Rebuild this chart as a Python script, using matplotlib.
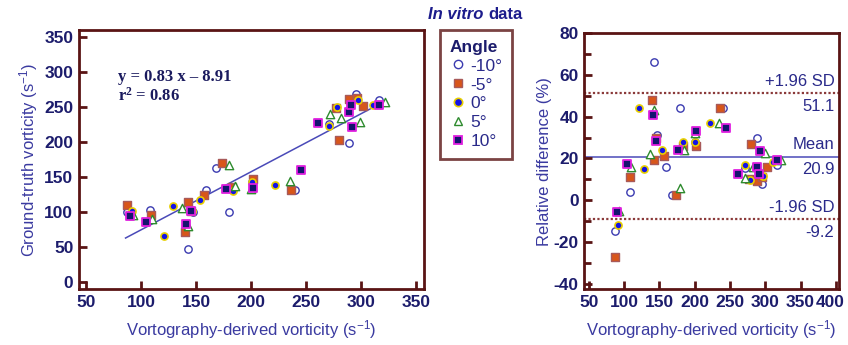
import matplotlib
matplotlib.use("Agg")
import matplotlib.pyplot as plt
import matplotlib.transforms as mtransforms
import numpy as np
from matplotlib.lines import Line2D

plt.rcParams['font.family'] = ['Liberation Sans', 'DejaVu Sans']
plt.rcParams['mathtext.default'] = 'regular'
plt.rcParams['axes.unicode_minus'] = False

x_m10 = [87, 108, 143, 147, 159, 168, 180, 201, 240, 271, 289, 295, 316]
gt_m10 = [99, 102, 47, 100, 131, 162, 99, 143, 131, 225, 198, 268, 259]
rd_m10 = [-15, 4, 66, 31, 16, 2.5, 44, 28, 44, 15.5, 30, 7.6, 17]

x_m5 = [87, 109, 140, 143, 145, 157, 174, 183, 202, 236, 277, 280, 289, 296, 302]
gt_m5 = [110, 95, 71, 114, 101, 124, 169, 135, 147, 131, 248, 203, 261, 263, 251]
rd_m5 = [-27, 11, 48, 19, 30, 21, 2.5, 26, 26, 44, 10, 27, 9, 11, 16]

x_0 = [92, 121, 129, 146, 154, 184, 201, 222, 271, 278, 297, 311]
gt_0 = [101, 66, 108, 101, 117, 130, 143, 138, 222, 250, 260, 252]
rd_0 = [-12, 44, 15, 29, 24, 28, 28, 37, 17, 9.5, 11.5, 18.5]

x_5 = [93, 110, 137, 143, 180, 185, 200, 235, 272, 282, 299, 322]
gt_5 = [95, 90, 106, 79, 167, 137, 133, 144, 240, 234, 228, 257]
rd_5 = [-5, 16, 22, 43, 6, 24, 32, 37, 10.5, 16, 22.5, 19]

x_10 = [90, 105, 141, 145, 177, 202, 245, 261, 289, 291, 292, 316]
gt_10 = [94, 86, 82, 101, 133, 134, 159, 226, 242, 252, 221, 253]
rd_10 = [-5.5, 17.5, 41, 28.5, 24, 33, 34.5, 12.5, 16, 12.5, 23.5, 19]

slope, icpt, r2 = 0.83, -8.91, 0.86
fit_x = [86, 311]
mean_d, hi_d, lo_d = 20.9, 51.1, -9.2

labels = ['-10°', '-5°', '0°', '5°', '10°']
styles = [
    dict(marker='o', facecolor='white', edgecolor='#3a3ab0', linewidths=1.0),
    dict(marker='s', facecolor='#d8561a', edgecolor='#a85a5a', linewidths=1.0),
    dict(marker='o', facecolor='#1414e6', edgecolor='#e8d000', linewidths=1.2),
    dict(marker='^', facecolor='white', edgecolor='#2e8b2e', linewidths=1.0),
    dict(marker='s', facecolor='#14146e', edgecolor='#e020e0', linewidths=1.3),
]
sizes = [28, 32, 26, 36, 32]
xs = [x_m10, x_m5, x_0, x_5, x_10]
gts = [gt_m10, gt_m5, gt_0, gt_5, gt_10]
rds = [rd_m10, rd_m5, rd_0, rd_5, rd_10]

spine_c = '#5a1414'
tick_c = '#1c1c6c'
lab_c = '#3a3aa0'
txt_c = '#2a2a8a'

fig = plt.figure(figsize=(8.48, 3.45), dpi=100)
ax1 = fig.add_axes([0.093, 0.162, 0.407, 0.751])
ax2 = fig.add_axes([0.689, 0.162, 0.300, 0.742])

for ax in (ax1, ax2):
    for s in ax.spines.values():
        s.set_color(spine_c)
        s.set_linewidth(2)
    ax.tick_params(direction='in', color=spine_c, width=2, length=6,
                   labelcolor=tick_c, labelsize=12.5, pad=4)
    ax.tick_params(which='minor', direction='in', color=spine_c, width=2, length=5)

# left: scatter + regression
fx = np.array(fit_x)
ax1.plot(fx, slope * fx + icpt, color='#4a4ab8', lw=1.1, zorder=1)
for i in range(5):
    ax1.scatter(xs[i], gts[i], s=sizes[i], zorder=3, **styles[i])
ax1.set_xlim(43.6, 357)
ax1.set_ylim(-10.5, 359.5)
ax1.set_xticks(range(50, 351, 50))
ax1.set_yticks(range(0, 351, 50))
ax1.set_xlabel('Vortography-derived vorticity (s$^{-1}$)', color=lab_c, fontsize=12, labelpad=6)
ax1.set_ylabel('Ground-truth vorticity (s$^{-1}$)', color=lab_c, fontsize=12, labelpad=3)
ax1.text(79, 292, 'y = 0.83 x \u2013 8.91', family='Liberation Serif', fontweight='bold',
         fontsize=12, color='#1a1a5e', va='center')
ax1.text(79, 265, 'r$^2$ = 0.86', family='Liberation Serif', fontweight='bold',
         fontsize=12, color='#1a1a5e', va='center')

# right: relative difference
ax2.axhline(mean_d, color='#4a4ab8', lw=1.1, zorder=1)
ax2.axhline(hi_d, color='#8b3a3a', lw=1.6, ls=(0, (1, 1)), zorder=1)
ax2.axhline(lo_d, color='#8b3a3a', lw=1.6, ls=(0, (1, 1)), zorder=1)
for i in range(5):
    ax2.scatter(xs[i], rds[i], s=sizes[i], zorder=3, **styles[i])
ax2.set_xlim(43.8, 404)
ax2.set_ylim(-42.6, 80)
ax2.set_xticks(range(50, 401, 50))
ax2.set_yticks(range(-40, 81, 20))
ax2.set_yticks(range(-30, 80, 20), minor=True)
ax2.set_xlabel('Vortography-derived vorticity (s$^{-1}$)', color=lab_c, fontsize=12, labelpad=6)
ax2.set_ylabel('Relative difference (%)', color=lab_c, fontsize=12, labelpad=1)

for ax in (ax1, ax2):
    for t in ax.get_xticklabels() + ax.get_yticklabels():
        t.set_fontweight('bold')

# keep the last tick label of the right panel inside the figure
last = ax2.get_xticklabels()[-1]
last.set_transform(last.get_transform() +
                   mtransforms.ScaledTranslation(-4 / 72, 0, fig.dpi_scale_trans))

for val, top in [(hi_d, '+1.96 SD'), (mean_d, 'Mean'), (lo_d, '-1.96 SD')]:
    ax2.text(398, val + 2, top, ha='right', va='bottom', color=txt_c, fontsize=12)
    ax2.text(398, val - 2.5, f'{val:.1f}', ha='right', va='top', color=txt_c, fontsize=12)

# legend
handles = []
for i in range(5):
    st = styles[i]
    handles.append(Line2D([], [], ls='none', marker=st['marker'], markersize=6,
                          markerfacecolor=st['facecolor'], markeredgecolor=st['edgecolor'],
                          markeredgewidth=st['linewidths']))
leg = fig.legend(handles, labels, title='Angle', loc='upper left',
                 bbox_to_anchor=(0.519, 0.913), borderaxespad=0, frameon=True,
                 fancybox=False, fontsize=12.5, handletextpad=0.2, handlelength=1.0,
                 labelspacing=0.22, borderpad=0.55, alignment='left')
leg.get_frame().set_edgecolor(spine_c)
leg.get_frame().set_linewidth(2)
leg.get_title().set_fontweight('bold')
leg.get_title().set_color(tick_c)
leg.get_title().set_fontsize(12.5)
for t in leg.get_texts():
    t.set_color(txt_c)

# title
fig.text(0.5695, 0.958, 'In vitro', ha='right', va='center', style='italic',
         fontweight='bold', fontsize=12, color='#1c1c8c')
fig.text(0.5765, 0.958, 'data', ha='left', va='center',
         fontweight='bold', fontsize=12, color='#1c1c8c')

plt.savefig('out.png', dpi=100)
